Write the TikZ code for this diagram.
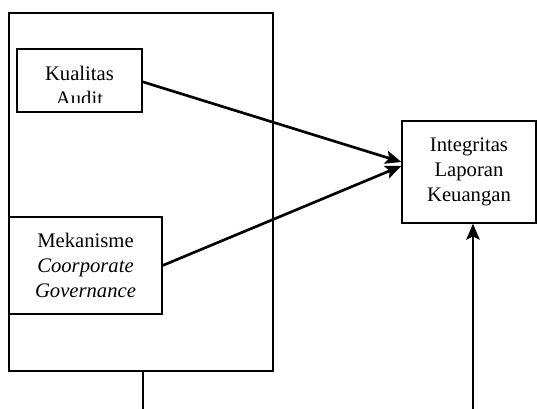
\documentclass[tikz,border=0pt]{standalone}
\usepackage{fontspec}
\setmainfont{Liberation Serif}
\usetikzlibrary{arrows.meta}
\begin{document}
\begin{tikzpicture}[x=0.75pt,y=-0.75pt,
    kotak/.style={draw, line width=1pt, inner sep=0pt, align=center},
    teks/.style={align=center, inner sep=0pt, font=\fontsize{15.5}{18.5}\selectfont},
    panah/.style={line width=2pt, -{Stealth[length=12pt,width=10pt,inset=2.5pt]}}]
    \useasboundingbox (0,0) rectangle (537,409);
    \node[kotak, minimum width=198pt, minimum height=268.5pt] (kerangka) at (141,192) {};
    \node[kotak, minimum width=93.75pt, minimum height=47.25pt] (kualitas) at (79.5,80.5) {};
    \begin{scope}
      \clip (17,49) rectangle (142,103);
      \node[teks] (teksaudit) at (79.5,86) {Kualitas\\Audit};
    \end{scope}
    \node[kotak, teks, minimum width=114.75pt, minimum height=72.75pt] (mekanisme) at (85.5,265.5) {Mekanisme\\\textit{Coorporate}\\\textit{Governance}};
    \node[kotak, teks, minimum width=100.5pt, minimum height=76.5pt] (integritas) at (469,172) {Integritas\\Laporan\\Keuangan};
    \coordinate (bawahkiri) at (143,409);
    \coordinate (bawahkanan) at (473,409);
    \draw[panah] ([yshift=-1pt]kualitas.east) -- ([yshift=7.5pt]integritas.west);
    \draw[panah] (mekanisme.east) -- ([yshift=4.5pt]integritas.west);
    \draw[line width=1.2pt] ([xshift=1.5pt]kerangka.south) -- (bawahkiri);
    \draw[panah] (bawahkanan) -- ([xshift=3pt]integritas.south);
\end{tikzpicture}
\end{document}
